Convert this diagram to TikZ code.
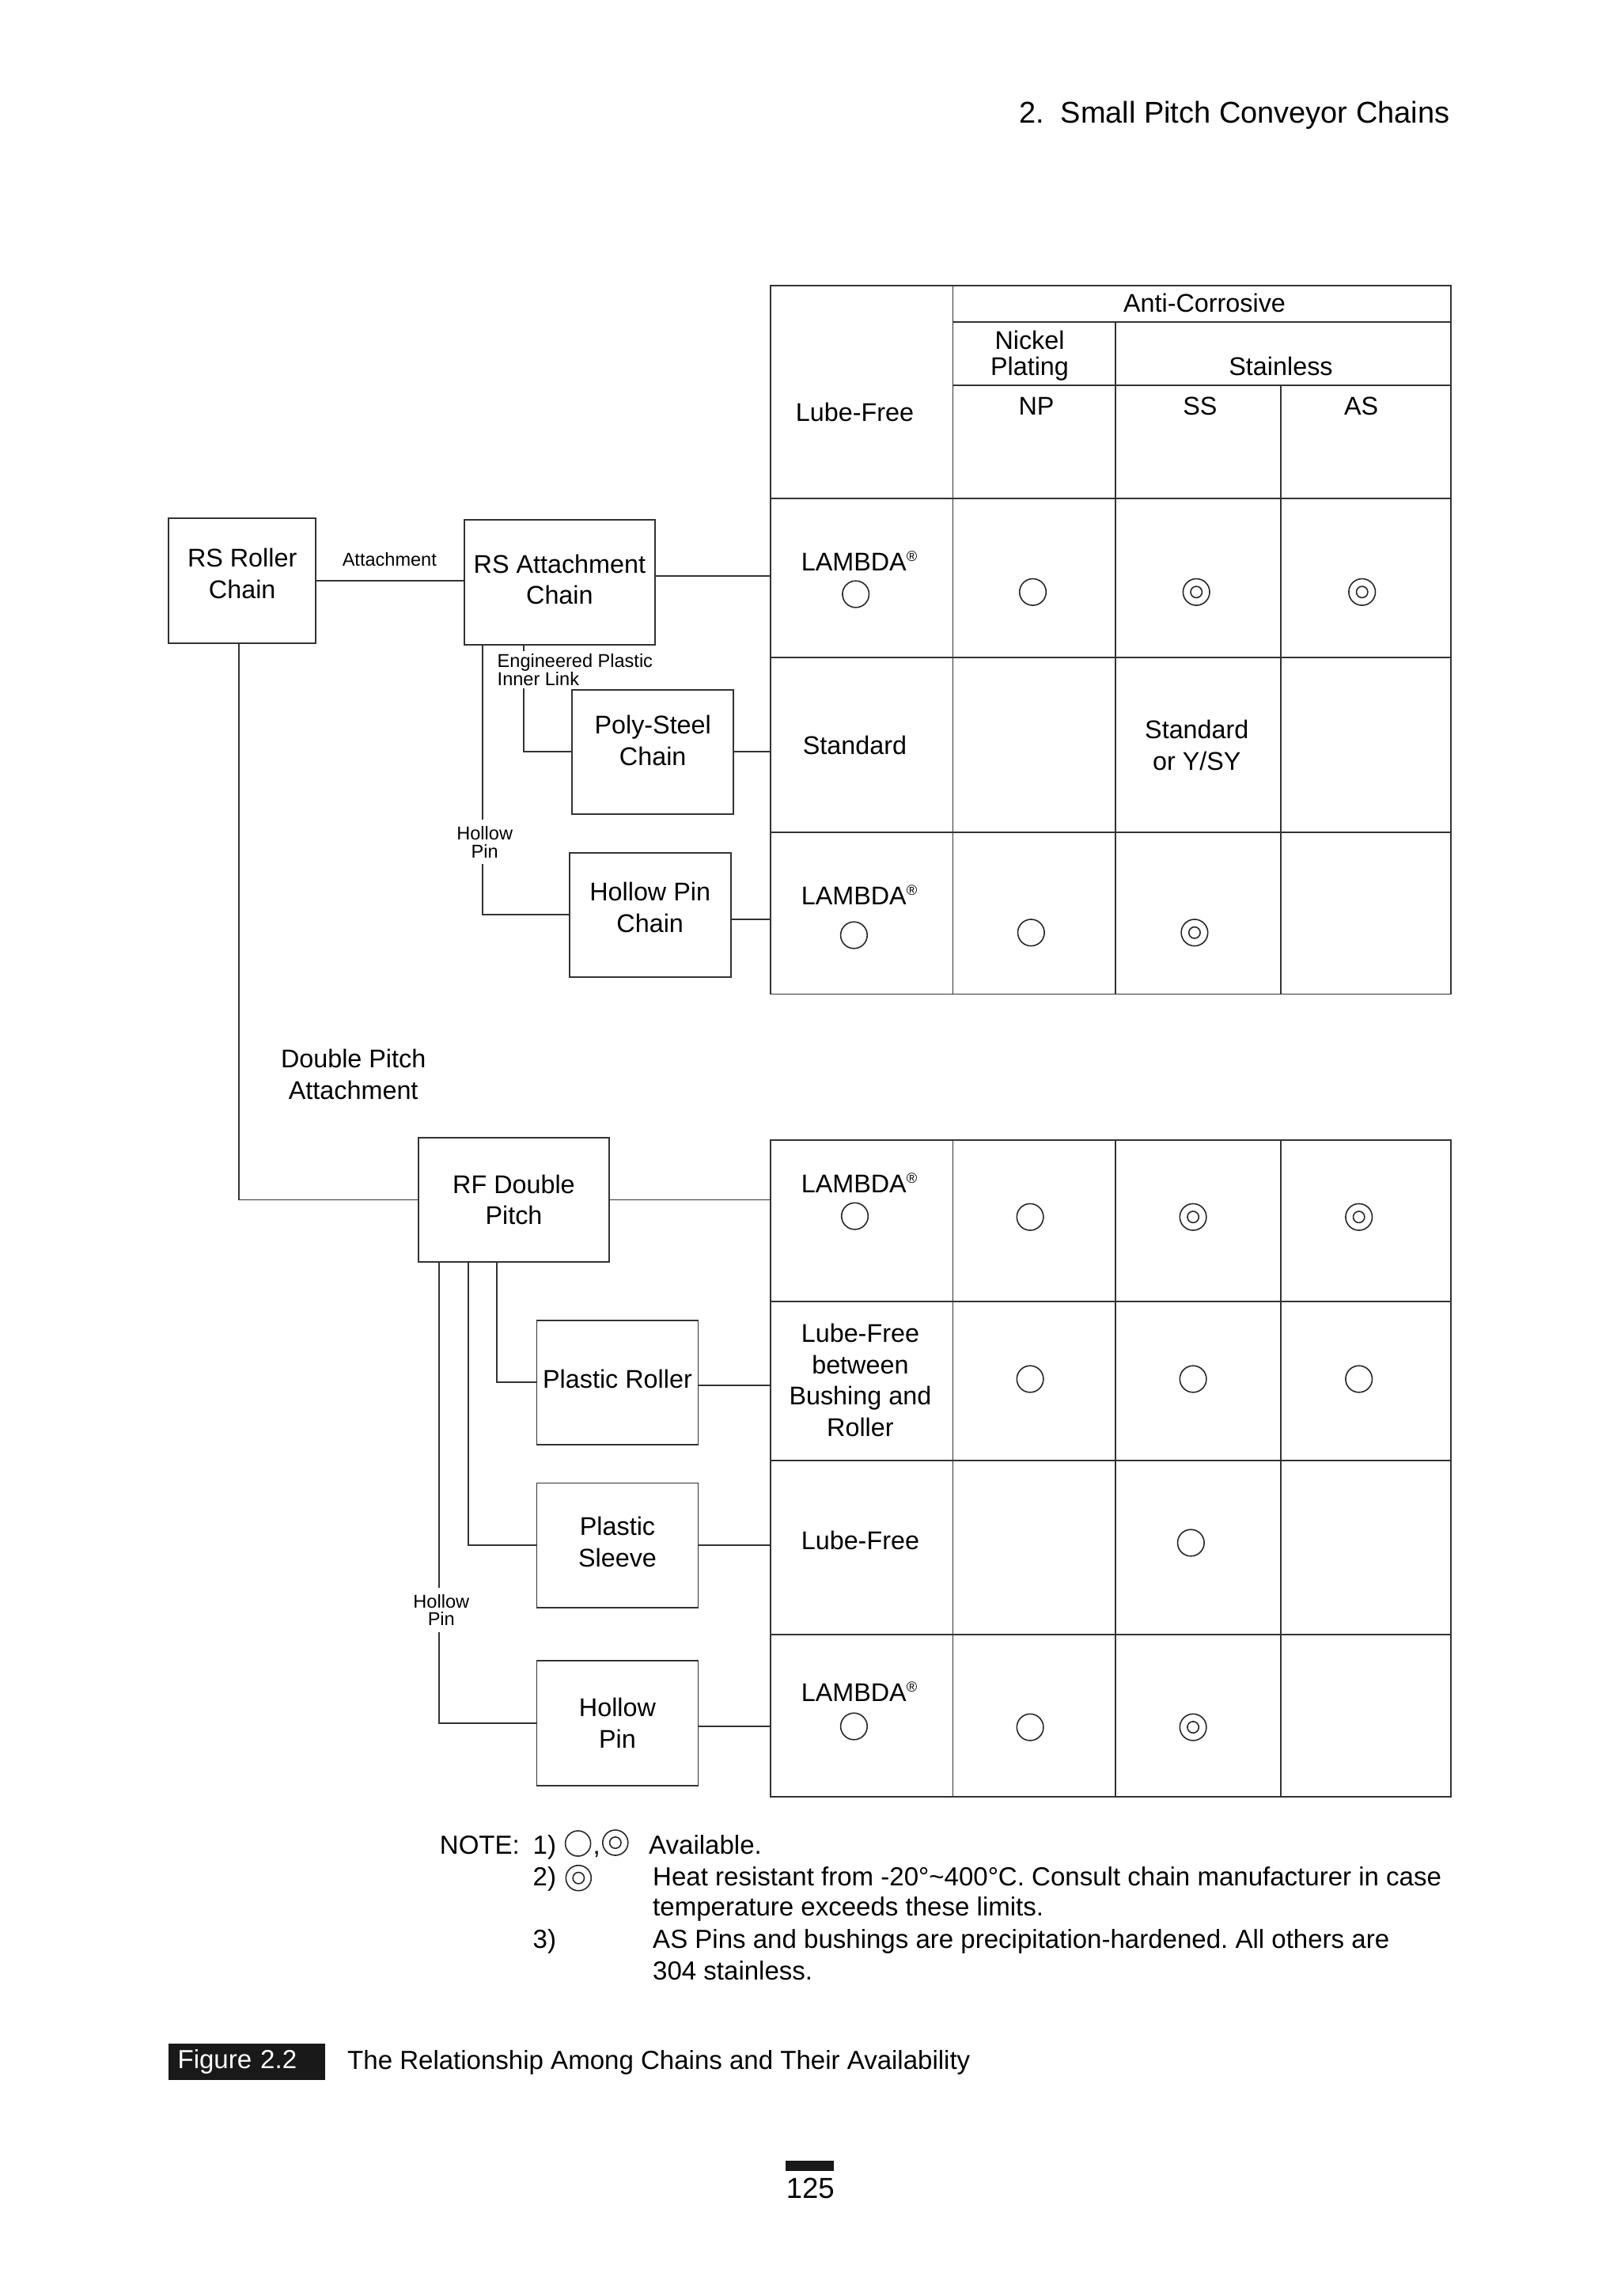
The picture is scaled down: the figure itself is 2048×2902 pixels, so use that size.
\documentclass[tikz,border=0pt]{standalone}
\usepackage{fontspec}
\setmainfont{Liberation Sans}
\frenchspacing
\newcommand{\boxfont}{\fontsize{9.2pt}{11.3pt}\selectfont}
\newcommand{\tagfont}{\fontsize{6.7pt}{6.5pt}\selectfont}
\newcommand{\notefont}{\fontsize{9.4pt}{11.3pt}\selectfont}
\newcommand{\reg}{\raisebox{1.2mm}{\fontsize{5.2pt}{6pt}\selectfont ®}}

\begin{document}
\begin{tikzpicture}[x=0.1mm,y=-0.1mm,
  chainbox/.style={draw=black!80, line width=0.55pt, minimum height=15.75mm, inner sep=0pt, align=center, font=\boxfont},
  cell/.style={inner sep=0pt, align=center, font=\boxfont},
  tag/.style={fill=white, inner sep=0.8mm, align=center, font=\tagfont},
  wire/.style={draw=black!80, line width=0.55pt},
  tabline/.style={draw=black!80, line width=0.55pt},
  avail/.style={circle, draw=black!85, line width=0.45pt, minimum size=3.36mm, inner sep=0pt},
  heat/.style={avail, path picture={\draw[black!85, line width=0.45pt] (path picture bounding box.center) circle (0.72mm);}},
  notetext/.style={inner sep=0pt, anchor=base west, font=\notefont}]
  \useasboundingbox (0,0) rectangle (2048,2902);

  \node[inner sep=0pt, anchor=base east, font=\fontsize{10.8pt}{12pt}\selectfont] (head) at (1833,156) {2.\hspace{0.55em}Small Pitch Conveyor Chains};

  % chains
  \node[chainbox, minimum width=18.57mm, text depth=1.85mm] (rsroller) at (306.2,733.9) {RS Roller\\Chain};
  \node[chainbox, minimum width=24.1mm, text depth=0.74mm] (rsatt) at (707.4,735.9) {RS Attachment\\Chain};
  \node[chainbox, minimum width=20.4mm, text depth=2.87mm] (polysteel) at (825.2,950.4) {Poly-Steel\\Chain};
  \node[chainbox, minimum width=20.4mm, text depth=1.98mm] (hollowchain) at (821.7,1156.4) {Hollow Pin\\Chain};
  \node[chainbox, minimum width=24.1mm] (rfdouble) at (649.5,1516.5) {RF Double\\Pitch};
  \node[chainbox, minimum width=20.4mm, text depth=1.02mm] (plroller) at (780.5,1747.4) {Plastic Roller};
  \node[chainbox, minimum width=20.4mm, text depth=0.85mm] (plsleeve) at (780.5,1953.2) {Plastic\\Sleeve};
  \node[chainbox, minimum width=20.4mm] (hollowpin) at (780.5,2178) {Hollow\\Pin};

  % tables
  \coordinate (tabA) at (973.6,360.7);
  \coordinate (tabB) at (973.6,1441.1);
  \draw[tabline] (tabA) rectangle (1833.6,1256.5);
  \draw[tabline] (1204.5,360.7) -- (1204.5,1256.5);
  \draw[tabline] (1410,406.7) -- (1410,1256.5);
  \draw[tabline] (1619,487) -- (1619,1256.5);
  \draw[tabline] (1204.5,406.7) -- (1833.6,406.7);
  \draw[tabline] (1204.5,487) -- (1833.6,487);
  \foreach \y in {630,831.2,1051.6}
    \draw[tabline] (973.6,\y) -- (1833.6,\y);
  \draw[tabline] (tabB) rectangle (1833.6,2270.8);
  \foreach \x in {1204.5,1410,1619}
    \draw[tabline] (\x,1441.1) -- (\x,2270.8);
  \foreach \y in {1644.8,1845.7,2066}
    \draw[tabline] (973.6,\y) -- (1833.6,\y);

  \node[cell, anchor=base] (anti) at (1522.5,395) {Anti-Corrosive};
  \node[cell, font=\fontsize{9.2pt}{9.45pt}\selectfont] (nickel) at (1301.5,450) {Nickel\\Plating};
  \node[cell, anchor=base] (stainless) at (1619,475) {Stainless};
  \node[cell, anchor=base] (np) at (1310,525) {NP};
  \node[cell, anchor=base] (ss) at (1516.8,525) {SS};
  \node[cell, anchor=base] (as) at (1720.6,525) {AS};
  \node[cell, anchor=base] (lubefree) at (1080.5,532.7) {Lube-Free};

  \node[cell, anchor=base] (lamA1) at (1086,721) {LAMBDA\reg};
  \node[avail] (oA1lf) at (1081.7,751) {};
  \node[avail] (oA1np) at (1305.5,748.3) {};
  \node[heat] (oA1ss) at (1512.2,748.3) {};
  \node[heat] (oA1as) at (1721.7,748.3) {};

  \node[cell, anchor=base] (stdA2) at (1080.5,953.9) {Standard};
  \node[cell] (ysyA2) at (1512.8,942) {Standard\\or Y/SY};

  \node[cell, anchor=base] (lamA3) at (1086,1143) {LAMBDA\reg};
  \node[avail] (oA3lf) at (1079.4,1182) {};
  \node[avail] (oA3np) at (1303.3,1178.8) {};
  \node[heat] (oA3ss) at (1509.9,1178.8) {};

  \node[cell, anchor=base] (lamB1) at (1086,1507.7) {LAMBDA\reg};
  \node[avail] (oB1lf) at (1080.5,1537.1) {};
  \node[avail] (oB1np) at (1302.1,1538.2) {};
  \node[heat] (oB1ss) at (1508.1,1538.2) {};
  \node[heat] (oB1as) at (1717.7,1538.2) {};

  \node[cell] (betweenB2) at (1087.4,1744.3) {Lube-Free\\between\\Bushing and\\Roller};
  \node[avail] (oB2np) at (1302.1,1743) {};
  \node[avail] (oB2ss) at (1508.1,1743) {};
  \node[avail] (oB2as) at (1717.7,1743) {};

  \node[cell, anchor=base] (lubeB3) at (1087.4,1958.4) {Lube-Free};
  \node[avail] (oB3ss) at (1505.3,1950) {};

  \node[cell, anchor=base] (lamB4) at (1086,2150.4) {LAMBDA\reg};
  \node[avail] (oB4lf) at (1079.4,2182) {};
  \node[avail] (oB4np) at (1302.1,2183.1) {};
  \node[heat] (oB4ss) at (1508.1,2183.1) {};

  % links
  \draw[wire] (rsroller.east) -- (rsroller.east -| rsatt.west);
  \draw[wire] ([yshift=0.8mm]rsatt.east) -- ([yshift=0.8mm]rsatt.east -| tabA);
  \draw[wire] ([xshift=-4.56mm]rsatt.south) |- (polysteel.west);
  \draw[wire] ([xshift=-9.76mm]rsatt.south) |- (hollowchain.west);
  \draw[wire] (polysteel.east) -- (polysteel.east -| tabA);
  \draw[wire] ([yshift=-0.55mm]hollowchain.east) -- ([yshift=-0.55mm]hollowchain.east -| tabA);
  \draw[wire] ([xshift=-0.4mm]rsroller.south) |- (rfdouble.west);
  \draw[wire] (rfdouble.east) -- (rfdouble.east -| tabB);
  \draw[wire] ([xshift=-2.14mm]rfdouble.south) |- (plroller.west);
  \draw[wire] ([xshift=-5.72mm]rfdouble.south) |- (plsleeve.west);
  \draw[wire] ([xshift=-9.49mm]rfdouble.south) |- (hollowpin.west);
  \draw[wire] ([yshift=-0.4mm]plroller.east) -- ([yshift=-0.4mm]plroller.east -| tabB);
  \draw[wire] (plsleeve.east) -- (plsleeve.east -| tabB);
  \draw[wire] ([yshift=-0.4mm]hollowpin.east) -- ([yshift=-0.4mm]hollowpin.east -| tabB);

  \node[tag, inner sep=0pt, anchor=base] (attlabel) at (492.3,715.1) {Attachment};
  \node[tag, align=left, anchor=north west, inner xsep=0.5mm, inner ysep=0.35mm] (eplabel) at (623,822) {Engineered Plastic\\Inner Link};
  \node[tag] (hplabelA) at (612.7,1064.2) {Hollow\\Pin};
  \node[tag] (hplabelB) at (557.8,2034.9) {Hollow\\Pin};
  \node[cell] (dplabel) at (446.7,1357.7) {Double Pitch\\Attachment};

  % notes
  \node[notetext] (noteA) at (555.2,2343.3) {NOTE:};
  \node[notetext] (noteA1) at (673,2343.3) {1)};
  \node[avail, minimum size=3.2mm] (noteAc) at (730.6,2330) {};
  \node[notetext] (noteAcomma) at (749,2343.3) {,};
  \node[heat, minimum size=3.2mm] (noteAh) at (777.8,2329) {};
  \node[notetext] (noteAt) at (819.5,2343.3) {Available.};
  \node[notetext] (noteB1) at (673,2383.3) {2)};
  \node[heat, minimum size=3.2mm] (noteBh) at (731.3,2373.7) {};
  \node[notetext] (noteBt) at (824.5,2383.3) {Heat resistant from -20°\textasciitilde400°C. Consult chain manufacturer in case};
  \node[notetext] (noteBt2) at (824.5,2421.7) {temperature exceeds these limits.};
  \node[notetext] (noteC1) at (673,2462.7) {3)};
  \node[notetext] (noteCt) at (824.5,2462.7) {AS Pins and bushings are precipitation-hardened. All others are};
  \node[notetext] (noteCt2) at (824.5,2502.3) {304 stainless.};

  % caption
  \node[fill=black!90, text=white, inner xsep=1.13mm, inner ysep=0pt, minimum height=4.66mm, text width=17.46mm, align=left, font=\notefont] (figtag) at (311.9,2606) {Figure 2.2};
  \node[notetext] (figcap) at (438.5,2615) {The Relationship Among Chains and Their Availability};

  \fill[black!90] (992.7,2731) rectangle (1054.4,2744.3);
  \node[inner sep=0pt, anchor=base, font=\fontsize{10.4pt}{12pt}\selectfont] (pageno) at (1024.3,2778.3) {125};
\end{tikzpicture}
\end{document}
